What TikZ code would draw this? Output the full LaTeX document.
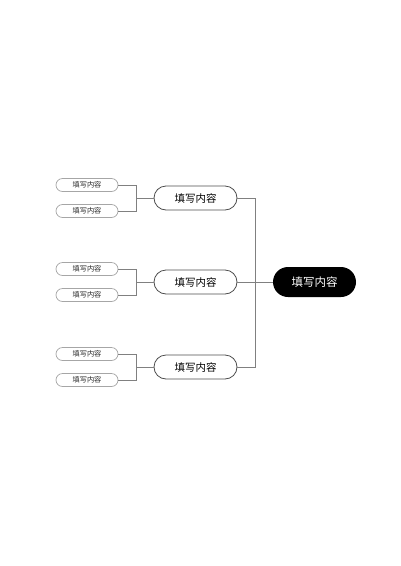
\documentclass[tikz,border=0pt]{standalone}
\usepackage{fontspec}
\newfontfamily\cjk{Noto Sans CJK SC}
\begin{document}
\begin{tikzpicture}[x=1pt,y=-1pt,
  leaf/.style={draw=black!35,line width=0.7pt,rounded corners=6.5pt,minimum width=62pt,minimum height=13pt,inner sep=0pt,font=\cjk\fontsize{7.2}{8}\selectfont,text=black!85},
  mid/.style={draw=black!70,line width=0.8pt,rounded corners=12pt,minimum width=83pt,minimum height=24pt,inner sep=0pt,font=\cjk\fontsize{10.5}{12}\selectfont},
  root/.style={fill=black,rounded corners=15pt,minimum width=83pt,minimum height=30pt,inner sep=0pt,text=white,font=\cjk\fontsize{11.5}{13}\selectfont},
  link/.style={draw=black!50,line width=0.7pt}]
\useasboundingbox (0,0) rectangle (400,566);
\node[root] (r) at (314.5,282) {填写内容};
\foreach \i/\y in {1/198,2/282,3/367}{
  \node[mid] (m\i) at (195.5,\y) {填写内容};
  \node[leaf] (a\i) at (87,\y-13) {填写内容};
  \node[leaf] (b\i) at (87,\y+13) {填写内容};
  \coordinate (j\i) at (136,\y);
  \draw[link] (a\i.east) -| (j\i) -- (m\i.west);
  \draw[link] (b\i.east) -| (j\i);
}
\coordinate (v1) at (255,198);
\coordinate (v3) at (255,367);
\coordinate (v2) at (255,282);
\draw[link] (m1.east) -- (v1) -- (v3) -- (m3.east);
\draw[link] (m2.east) -- (r.west);
\end{tikzpicture}
\end{document}
